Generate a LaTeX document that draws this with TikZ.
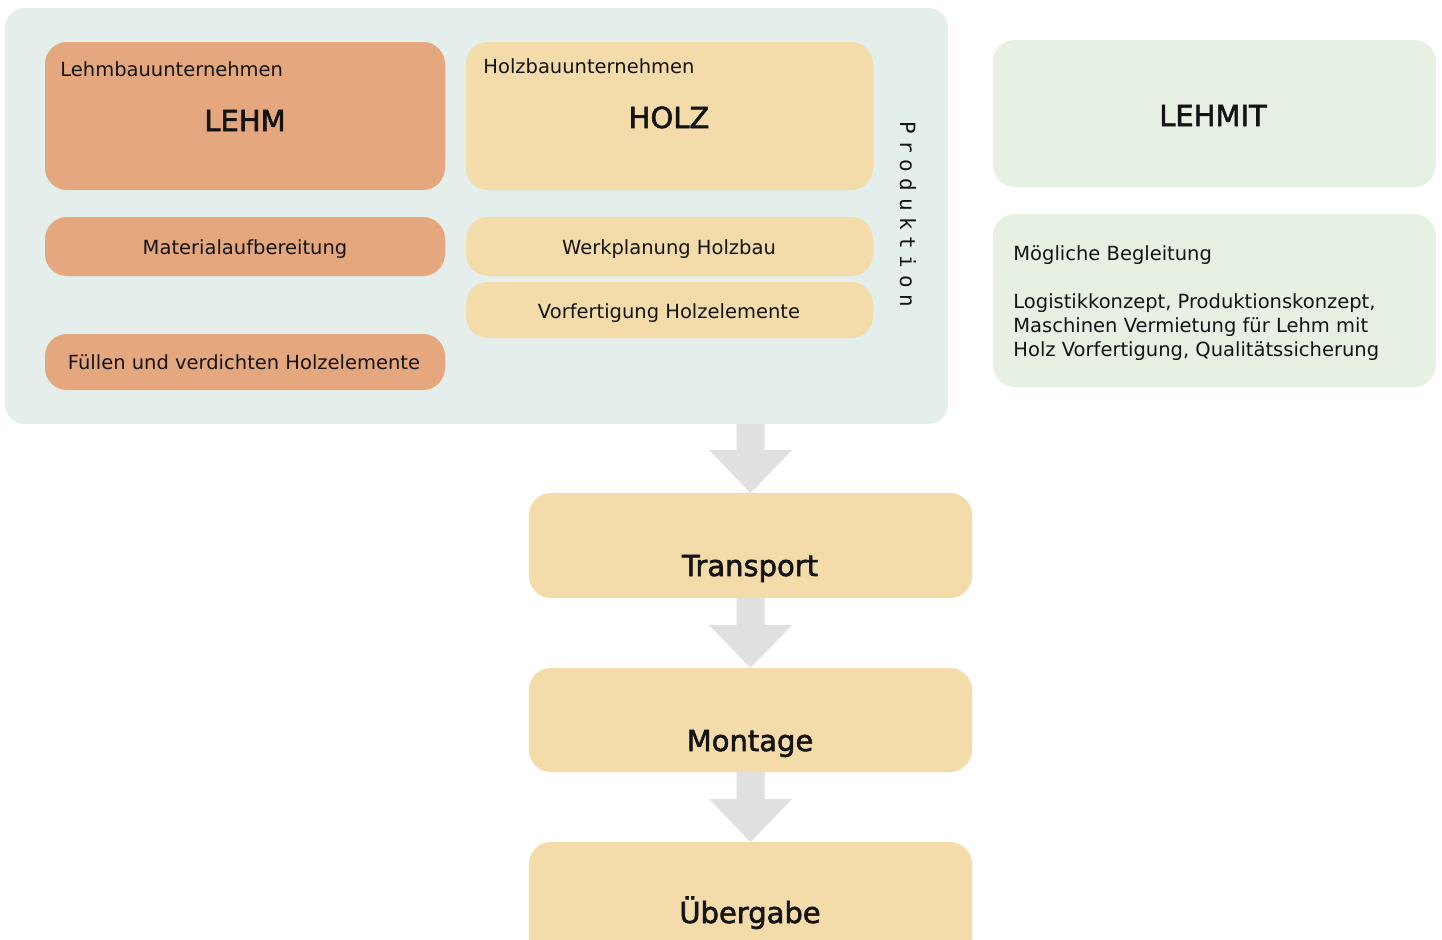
\documentclass[tikz,border=0pt]{standalone}
\usepackage{fontspec}
\setmainfont{DejaVu Sans}
\newfontfamily\monofont{DejaVu Sans Mono}
\newfontfamily\medfont[FakeBold=2]{DejaVu Sans}
\usetikzlibrary{calc}
\definecolor{contc}{HTML}{E4EEEA}
\definecolor{orangec}{HTML}{E5A77D}
\definecolor{sandc}{HTML}{F3DBAA}
\definecolor{greenc}{HTML}{E6F0E3}
\definecolor{arrowc}{HTML}{E0E0E0}
\definecolor{txt}{HTML}{141414}
\newcommand\bx[6]{\node[box,#6,minimum width={(#4-#2)*0.5pt},minimum height={(#5-#3)*0.5pt}] (#1) at ({(#2+#4)/2},{(#3+#5)/2}) {};}
\newcommand\blockarrow[2]{\fill[arr] let \p1=(#2.north), \p2=(#1.south) in
  (\x1-7pt,\y2) -- (\x1-7pt,\y1+21.5pt) -- (\x1-20.75pt,\y1+21.5pt) -- (\x1,\y1)
  -- (\x1+20.75pt,\y1+21.5pt) -- (\x1+7pt,\y1+21.5pt) -- (\x1+7pt,\y2) -- cycle;}
\newcommand\lsp{\hspace{3.3pt}}
\begin{document}
\begin{tikzpicture}[x=0.5pt,y=-0.5pt,
  box/.style={rectangle,draw=none,rounded corners=11pt,inner sep=0pt,outer sep=0pt},
  small/.style={font=\fontsize{9.75pt}{12pt}\selectfont,inner sep=0pt,text=txt},
  big/.style={font=\medfont\fontsize{14.5pt}{17pt}\selectfont,inner sep=0pt,text=txt},
  arr/.style={fill=arrowc,draw=none}]
\useasboundingbox (0,0) rectangle (1442,939);

% container
\bx{cont}{5}{8}{948}{424}{fill=contc,rounded corners=10pt}

% left column
\bx{lehm}{45}{42}{445}{190}{fill=orangec}
\bx{mat}{45}{217}{445}{276}{fill=orangec}
\bx{fuel}{45}{334}{445}{390}{fill=orangec}
% middle column
\bx{holz}{466}{42}{873}{190}{fill=sandc}
\bx{werk}{466}{217}{873}{276}{fill=sandc}
\bx{vorf}{466}{282}{873}{338}{fill=sandc}
% right column
\bx{lehmit}{993}{40}{1436}{187}{fill=greenc}
\bx{begl}{993}{214}{1436}{387}{fill=greenc}
% flow
\bx{trans}{529}{493}{972}{598}{fill=sandc}
\bx{mont}{529}{668}{972}{772}{fill=sandc}
\bx{ueber}{529}{842}{972}{990}{fill=sandc}

% texts
\node[small,anchor=base west] (lehmsub) at (60,76) {Lehmbauunternehmen};
\node[big,anchor=base] (lehmt) at (245,131) {LEHM};
\node[small,anchor=base west] (holzsub) at (483,73) {Holzbauunternehmen};
\node[big,anchor=base] (holzt) at (669,128) {HOLZ};
\node[big,anchor=base] (lehmitt) at (1213,126) {LEHMIT};
\node[small,anchor=base] (matt) at (245,254) {Materialaufbereitung};
\node[small,anchor=base] (werkt) at (669,254) {Werkplanung Holzbau};
\node[small,anchor=base] (vorft) at (669,318) {Vorfertigung Holzelemente};
\node[small,anchor=base] (fuelt) at (244,369) {Füllen und verdichten Holzelemente};
\node[small,anchor=base west] (bt1) at (1013,260) {Mögliche Begleitung};
\node[small,anchor=base west] (bt2) at (1013,308) {Logistikkonzept, Produktionskonzept,};
\node[small,anchor=base west] (bt3) at (1013,332) {Maschinen Vermietung für Lehm mit};
\node[small,anchor=base west] (bt4) at (1013,356) {Holz Vorfertigung, Qualitätssicherung};
\node[inner sep=0pt,text=txt,font=\monofont\fontsize{10.5pt}{12pt}\selectfont,rotate=-90] (prod) at (908,214) {P\lsp r\lsp o\lsp d\lsp u\lsp k\lsp t\lsp i\lsp o\lsp n};
\node[big,anchor=base] (transt) at (750,576) {Transport};
\node[big,anchor=base] (montt) at (750,751) {Montage};
\node[big,anchor=base] (uebert) at (750,923) {Übergabe};

% arrows
\blockarrow{cont}{trans}
\blockarrow{trans}{mont}
\blockarrow{mont}{ueber}
\end{tikzpicture}
\end{document}
